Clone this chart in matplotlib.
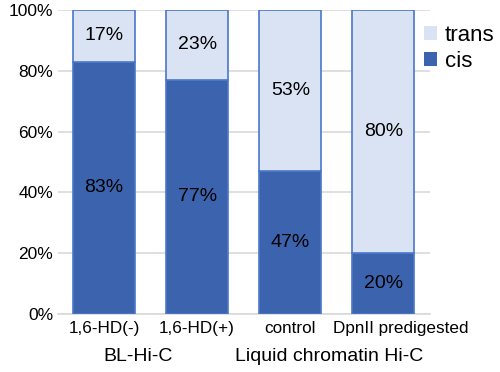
import matplotlib.pyplot as plt
import matplotlib.ticker as mticker
from matplotlib.patches import Patch
from matplotlib.transforms import ScaledTranslation

plt.rcParams['font.family'] = ['Liberation Sans', 'DejaVu Sans']

samples = ['1,6-HD(-)', '1,6-HD(+)', 'control', 'DpnII predigested']
groups = ['BL-Hi-C', 'Liquid chromatin Hi-C']
cis = [83, 77, 47, 20]
trans = [17, 23, 53, 80]

cis_color = '#3c64ae'
trans_color = '#dae3f3'
edge_color = '#4a78c8'

fig = plt.figure(figsize=(5.0, 3.72), dpi=100)
ax = fig.add_axes([0.115, 0.156, 0.745, 0.817])

x = range(len(samples))
ax.bar(x, cis, width=0.665, color=cis_color, edgecolor=edge_color, linewidth=1.2, label='cis', zorder=3)
ax.bar(x, trans, width=0.665, bottom=cis, color=trans_color, edgecolor=edge_color, linewidth=1.2,
       label='trans', zorder=3)

for i in x:
    ax.text(i, cis[i] / 2, f'{cis[i]}%', ha='center', va='center', fontsize=14, zorder=4)
    ax.text(i, cis[i] + trans[i] / 2, f'{trans[i]}%', ha='center', va='center', fontsize=14, zorder=4)

ax.set_xlim(-0.5, 3.5)
ax.set_ylim(0, 100)
ax.yaxis.set_major_locator(mticker.MultipleLocator(20))
ax.yaxis.set_major_formatter(mticker.FuncFormatter(lambda v, p: f'{v:.0f}%'))
ax.grid(axis='y', color='#d9d9d9', linewidth=1.2, zorder=0)
for s in ['top', 'right', 'left']:
    ax.spines[s].set_visible(False)
ax.spines['bottom'].set_color('#d9d9d9')
ax.spines['bottom'].set_linewidth(1.2)
ax.tick_params(axis='y', length=0, labelsize=12.5, pad=3)
ax.tick_params(axis='x', length=0, labelsize=12.3, pad=5)
ax.set_xticks(list(x))
ax.set_xticklabels(samples)

# the long last label is nudged right so it doesn't run into "control"
last = ax.get_xticklabels()[-1]
last.set_transform(last.get_transform() + ScaledTranslation(0.17, 0, fig.dpi_scale_trans))

# group labels under the sample names
ax.text(0.365, -0.141, groups[0], transform=ax.get_xaxis_transform(), ha='center', va='center', fontsize=14)
ax.text(2.42, -0.141, groups[1], transform=ax.get_xaxis_transform(), ha='center', va='center', fontsize=14)

handles = [Patch(facecolor=trans_color, label='trans'), Patch(facecolor=cis_color, label='cis')]
fig.legend(handles=handles, loc='upper left', bbox_to_anchor=(0.848, 0.933), frameon=False,
           fontsize=16, handlelength=0.6, handleheight=0.6, handletextpad=0.35, labelspacing=0.22,
           borderaxespad=0, borderpad=0)

fig.savefig('out.png', dpi=100)
